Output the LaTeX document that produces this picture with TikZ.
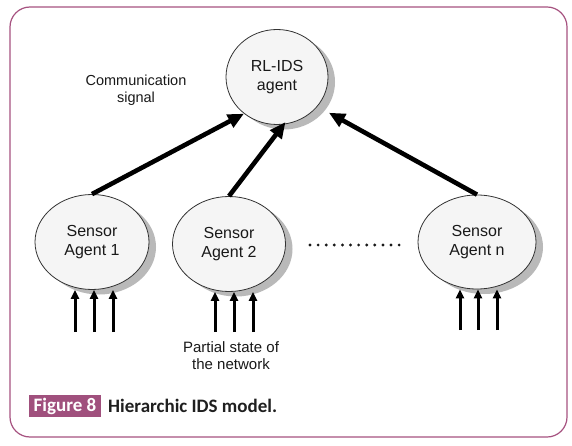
\documentclass[tikz,border=0pt]{standalone}
\usepackage{fontspec}
\setmainfont{Liberation Sans}
\newfontfamily\capfont{Carlito}
\usetikzlibrary{shapes.geometric,arrows.meta,shadows}
\definecolor{framecol}{RGB}{166,82,128}
\definecolor{figcol}{RGB}{160,80,125}
\definecolor{ellfill}{RGB}{245,245,245}
\definecolor{shadowcol}{RGB}{185,185,185}
\definecolor{txtcol}{RGB}{25,25,25}
\begin{document}
\begin{tikzpicture}[x=1pt,y=-1pt,
  agent/.style={ellipse, draw=black!80, line width=0.8pt, fill=ellfill, inner sep=0pt,
    align=center, text=txtcol, font=\fontsize{16}{19}\selectfont,
    drop shadow={shadow xshift=7pt, shadow yshift=-5pt, fill=shadowcol, opacity=1}},
  bigarrow/.style={line width=4.6pt, -{Triangle[length=16pt,width=14pt]}},
  inarrow/.style={line width=3pt, -{Triangle[length=9pt,width=8pt]}},
  lbl/.style={align=center, text=txtcol, inner sep=0pt},
  capstyle/.style={font=\capfont\bfseries\fontsize{19}{21}\selectfont, inner sep=0pt}]
\useasboundingbox (0,0) rectangle (572,446);
\fill[white] (0,0) rectangle (572,446);
\draw[framecol, line width=1.2pt, rounded corners=20pt] (10,7) rectangle (567,437);

% agents
\node[agent, minimum width=102pt, minimum height=95pt] (rl) at (277,77) {RL-IDS\\agent};
\node[agent, minimum width=114pt, minimum height=95pt] (s1) at (92,242) {Sensor\\Agent 1};
\node[agent, minimum width=113pt, minimum height=95pt] (s2) at (229,244) {Sensor\\Agent 2};
\node[agent, minimum width=118pt, minimum height=94pt] (sn) at (477,242) {Sensor\\Agent n};

% labels
\node[lbl, font=\fontsize{14.5}{17}\selectfont] (comm) at (136,90) {Communication\\signal};
\node[lbl, font=\fontsize{15}{17}\selectfont] (part) at (231,356) {Partial state of\\the network};

% communication arrows
\draw[bigarrow] (s1.north) -- (rl.-132);
\draw[bigarrow, shorten >=-3pt] (s2.north) -- (rl.-82);
\draw[bigarrow, shorten >=13pt] (sn.north) -- (rl.-36);

% input arrows
\foreach \n/\x in {a/75,b/94,c/113} {
  \coordinate (s1\n) at (\x,332);
  \draw[inarrow] (s1\n) -- (s1\n |- s1.south);
}
\foreach \n/\x in {a/215,b/234,c/253} {
  \coordinate (s2\n) at (\x,332);
  \draw[inarrow] (s2\n) -- (s2\n |- s2.south);
}
\foreach \n/\x in {a/460,b/478,c/497} {
  \coordinate (sn\n) at (\x,330);
  \draw[inarrow] (sn\n) -- (sn\n |- sn.south);
}

% dots
\foreach \i in {0,...,11} {
  \fill[txtcol] (310+\i*8.1,245) circle (1.6pt);
}

% caption
\node[capstyle, fill=figcol, text=white, minimum width=72pt, minimum height=22pt] (figlbl) at (65,406) {Figure 8};
\node[capstyle, anchor=west, text=black!88] (caption) at (108,406) {Hierarchic IDS model.};
\end{tikzpicture}
\end{document}
